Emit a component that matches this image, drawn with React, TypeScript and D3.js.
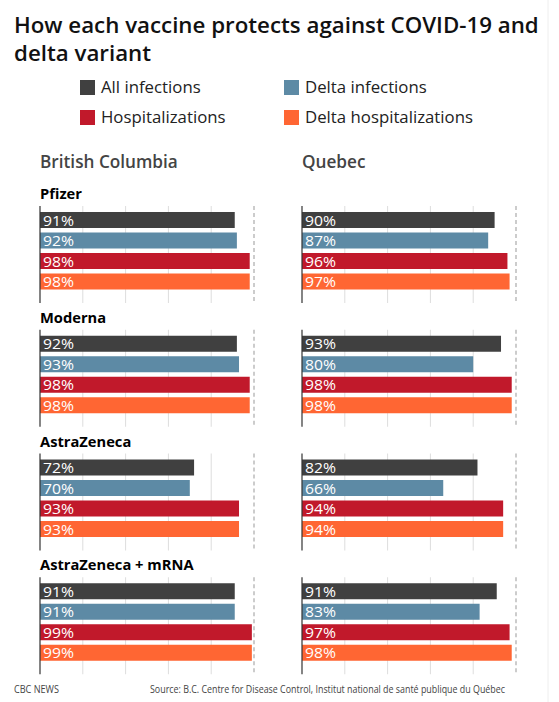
import React from "react";
import * as d3 from "d3";

const regions = ["British Columbia", "Quebec"];
const vaccines = ["Pfizer", "Moderna", "AstraZeneca", "AstraZeneca + mRNA"];
const measures = ["All infections", "Delta infections", "Hospitalizations", "Delta hospitalizations"];
const measureColors = ["#404040", "#5d8aa5", "#c1192b", "#ff6633"];
const bcValues = [
  [91, 92, 98, 98],
  [92, 93, 98, 98],
  [72, 70, 93, 93],
  [91, 91, 99, 99],
];
const qcValues = [
  [90, 87, 96, 97],
  [93, 80, 98, 98],
  [82, 66, 94, 94],
  [91, 83, 97, 98],
];
const ticks = [0, 20, 40, 60, 80, 100];

const W = 559;
const H = 702;
const FONT = "'Open Sans', 'Noto Sans', sans-serif";

export default function App() {
  const panelX = [40, 302];
  const panelW = 214;
  const groupY = d3.scaleBand<string>().domain(vaccines).range([184, 679]);
  const barY = d3.scaleBand<string>().domain(measures).range([0, 82]).paddingInner(0.22);
  const allValues = [bcValues, qcValues];

  return (
    <svg width={W} height={H} style={{ position: "absolute", left: 0, top: 0, background: "#fff" }} fontFamily={FONT}>
      <rect x={0} y={0} width={W} height={H} fill="#fff" />
      <line x1={548} x2={548} y1={0} y2={H} stroke="#eee" strokeWidth={1} />
      <text x={14} y={33} fontSize={22.3} fontWeight={600} fill="#111">How each vaccine protects against COVID-19 and</text>
      <text x={14} y={61} fontSize={22.3} fontWeight={600} fill="#111">delta variant</text>
      {measures.map((m, i) => {
        const cx = [80, 284][i === 0 || i === 2 ? 0 : 1];
        const cy = [80, 110][i < 2 ? 0 : 1];
        return (
          <g key={m}>
            <rect x={cx} y={cy} width={15} height={15} fill={measureColors[i]} />
            <text x={cx + 21} y={cy + 13} fontSize={16.8} fill="#222">{m}</text>
          </g>
        );
      })}
      {regions.map((r, ri) => {
        const x = d3.scaleLinear().domain([0, 100]).range([panelX[ri], panelX[ri] + panelW]);
        return (
          <g key={r}>
            <text x={panelX[ri]} y={168} fontSize={17.2} fontWeight={600} fill="#444">{r}</text>
            {vaccines.map((v, vi) => {
              const gy = groupY(v)!;
              const top = gy + 22;
              const bottom = top + 97;
              return (
                <g key={v}>
                  {ri === 0 && (
                    <text x={panelX[0]} y={gy + 15} fontSize={14.7} fontWeight={700} fill="#000">{v}</text>
                  )}
                  {ticks.slice(1).map((t) => (
                    <line key={t} x1={x(t)} x2={x(t)} y1={top} y2={bottom}
                      stroke={t === 100 ? "#999" : "#ddd"} strokeWidth={1}
                      strokeDasharray={t === 100 ? "4,3" : undefined} />
                  ))}
                  {measures.map((m, mi) => {
                    const val = allValues[ri][vi][mi];
                    const yy = top + 6 + (barY(m)! / barY.step()) * 20.5;
                    return (
                      <g key={m}>
                        <rect x={x(0)} y={yy} width={x(val) - x(0)} height={16} fill={measureColors[mi]} />
                        <text x={x(0) + 3} y={yy + 13.5} fontSize={15} fill="#fff" textLength={31} lengthAdjust="spacingAndGlyphs">{val}%</text>
                      </g>
                    );
                  })}
                  <line x1={x(0)} x2={x(0)} y1={top} y2={bottom} stroke="#333" strokeWidth={1.2} />
                </g>
              );
            })}
          </g>
        );
      })}
      <text x={14} y={693} fontSize={10} fill="#444" textLength={45} lengthAdjust="spacingAndGlyphs">CBC NEWS</text>
      <text x={150} y={693} fontSize={10} fill="#444" textLength={355} lengthAdjust="spacingAndGlyphs">Source: B.C. Centre for Disease Control, Institut national de santé publique du Québec</text>
    </svg>
  );
}
